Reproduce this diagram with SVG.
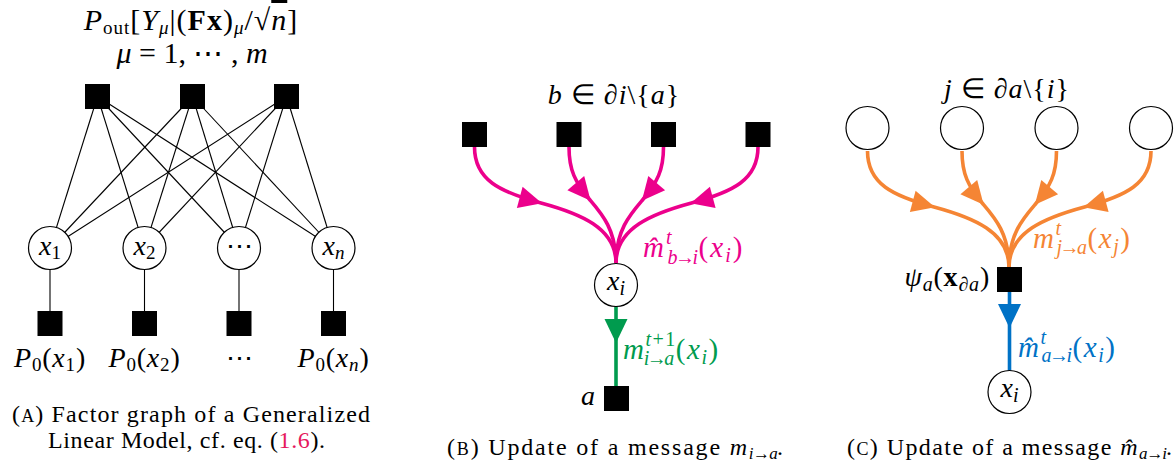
<svg xmlns="http://www.w3.org/2000/svg" width="1176" height="461" viewBox="0 0 1176 461">
<style>
text{font-family:"Liberation Serif","Times New Roman",serif;fill:#000}
.i{font-style:italic}
.b{font-weight:bold}
.ar{letter-spacing:-2.5px}
.e{stroke:#000;stroke-width:1.1;fill:none}
.v{fill:#fff;stroke:#000;stroke-width:1.2}
.f{fill:#000}
.pk{stroke:#EC008C;stroke-width:3.6;fill:none;marker-mid:url(#aP)}
.or{stroke:#F58534;stroke-width:3.6;fill:none;marker-mid:url(#aO)}
.gr{stroke:#009B4E;stroke-width:3.6;fill:none;marker-mid:url(#aG)}
.bl{stroke:#0072C6;stroke-width:3.6;fill:none;marker-mid:url(#aB)}
</style>
<defs>
<marker id="aP" viewBox="-24 -12 26 24" markerWidth="26" markerHeight="24" refX="0" refY="0" orient="auto" markerUnits="userSpaceOnUse"><path d="M1,0 L-22,-11 L-22,11 z" fill="#EC008C"/></marker>
<marker id="aO" viewBox="-24 -12 26 24" markerWidth="26" markerHeight="24" refX="0" refY="0" orient="auto" markerUnits="userSpaceOnUse"><path d="M1,0 L-22,-11 L-22,11 z" fill="#F58534"/></marker>
<marker id="aG" viewBox="-24 -12 26 24" markerWidth="26" markerHeight="24" refX="0" refY="0" orient="auto" markerUnits="userSpaceOnUse"><path d="M1,0 L-23,-11.5 L-23,11.5 z" fill="#009B4E"/></marker>
<marker id="aB" viewBox="-24 -12 26 24" markerWidth="26" markerHeight="24" refX="0" refY="0" orient="auto" markerUnits="userSpaceOnUse"><path d="M1,0 L-23,-11.5 L-23,11.5 z" fill="#0072C6"/></marker>
</defs>

<!-- Panel A -->
<g id="connectors-a">
<line class="e" x1="97.5" y1="96.5" x2="50" y2="248"/>
<line class="e" x1="97.5" y1="96.5" x2="144.5" y2="248"/>
<line class="e" x1="97.5" y1="96.5" x2="239" y2="248"/>
<line class="e" x1="97.5" y1="96.5" x2="333.5" y2="248"/>
<line class="e" x1="192.5" y1="96.5" x2="50" y2="248"/>
<line class="e" x1="192.5" y1="96.5" x2="144.5" y2="248"/>
<line class="e" x1="192.5" y1="96.5" x2="239" y2="248"/>
<line class="e" x1="192.5" y1="96.5" x2="333.5" y2="248"/>
<line class="e" x1="286.5" y1="96.5" x2="50" y2="248"/>
<line class="e" x1="286.5" y1="96.5" x2="144.5" y2="248"/>
<line class="e" x1="286.5" y1="96.5" x2="239" y2="248"/>
<line class="e" x1="286.5" y1="96.5" x2="333.5" y2="248"/>
<line class="e" x1="50" y1="248" x2="50" y2="323"/>
<line class="e" x1="144.5" y1="248" x2="144.5" y2="323"/>
<line class="e" x1="239" y1="248" x2="239" y2="323"/>
<line class="e" x1="333.5" y1="248" x2="333.5" y2="323"/>
</g>
<g id="pout-label">
<text x="191" y="30" font-size="30" text-anchor="middle" letter-spacing="1"><tspan class="i">P</tspan><tspan font-size="19" dy="4">out</tspan><tspan dy="-4">[</tspan><tspan class="i">Y</tspan><tspan class="i" font-size="19" dy="4">μ</tspan><tspan dy="-4">|(</tspan><tspan class="b">Fx</tspan><tspan>)</tspan><tspan class="i" font-size="19" dy="4">μ</tspan><tspan dy="-4">/√</tspan><tspan class="i" text-decoration="overline">n</tspan><tspan>]</tspan></text>
<text x="192" y="63" font-size="30" text-anchor="middle"><tspan class="i">μ</tspan> = 1, ⋯ , <tspan class="i">m</tspan></text>
</g>
<g id="fA1"><rect class="f" x="85" y="84" width="25" height="25"/></g>
<g id="fA2"><rect class="f" x="180" y="84" width="25" height="25"/></g>
<g id="fA3"><rect class="f" x="274" y="84" width="25" height="25"/></g>
<g id="vA1"><circle class="v" cx="50" cy="248" r="21.5"/><text x="50" y="255" font-size="28" text-anchor="middle"><tspan class="i">x</tspan><tspan font-size="19" dy="4">1</tspan></text></g>
<g id="vA2"><circle class="v" cx="144.5" cy="248" r="21.5"/><text x="144.5" y="255" font-size="28" text-anchor="middle"><tspan class="i">x</tspan><tspan font-size="19" dy="4">2</tspan></text></g>
<g id="vA3"><circle class="v" cx="239" cy="248" r="21.5"/><text x="239" y="255" font-size="27" text-anchor="middle">⋯</text></g>
<g id="vA4"><circle class="v" cx="333.5" cy="248" r="21.5"/><text x="333.5" y="255" font-size="28" text-anchor="middle"><tspan class="i">x</tspan><tspan class="i" font-size="19" dy="4">n</tspan></text></g>
<g id="pA1"><rect class="f" x="37.5" y="311" width="25" height="25"/><text x="50" y="367" font-size="28" text-anchor="middle" letter-spacing="0.8"><tspan class="i">P</tspan><tspan font-size="19" dy="4">0</tspan><tspan dy="-4">(</tspan><tspan class="i">x</tspan><tspan font-size="19" dy="4">1</tspan><tspan dy="-4">)</tspan></text></g>
<g id="pA2"><rect class="f" x="132" y="311" width="25" height="25"/><text x="144.5" y="367" font-size="28" text-anchor="middle" letter-spacing="0.8"><tspan class="i">P</tspan><tspan font-size="19" dy="4">0</tspan><tspan dy="-4">(</tspan><tspan class="i">x</tspan><tspan font-size="19" dy="4">2</tspan><tspan dy="-4">)</tspan></text></g>
<g id="pA3"><rect class="f" x="226.5" y="311" width="25" height="25"/><text x="239" y="367" font-size="27" text-anchor="middle">⋯</text></g>
<g id="pA4"><rect class="f" x="321" y="311" width="25" height="25"/><text x="333.5" y="367" font-size="28" text-anchor="middle" letter-spacing="0.8"><tspan class="i">P</tspan><tspan font-size="19" dy="4">0</tspan><tspan dy="-4">(</tspan><tspan class="i">x</tspan><tspan class="i" font-size="19" dy="4">n</tspan><tspan dy="-4">)</tspan></text></g>
<g id="capA">
<text x="12" y="422" font-size="24" textLength="358" lengthAdjust="spacing">(<tspan font-size="18">A</tspan>) Factor graph of a Generalized</text>
<text x="48" y="448" font-size="24" textLength="277" lengthAdjust="spacing">Linear Model, cf. eq. (<tspan fill="#E6195E">1.6</tspan>).</text>
</g>

<!-- Panel B -->
<g id="connectors-b">
<path class="pk" d="M474.5,147 C474.5,180 500,192 541,203 C580,213.5 616,228 616,263"/>
<path class="pk" d="M569,147 C569,170 575,182 590,200 C602,214 616,230 616,263"/>
<path class="pk" d="M663.5,147 C663.5,170 657.5,182 642.5,200 C630.5,214 616,230 616,263"/>
<path class="pk" d="M758,147 C758,180 732.5,192 691.5,203 C652.5,213.5 616,228 616,263"/>
<path class="gr" d="M616,306 L616,342 L616,386"/>
</g>
<g id="bLabel"><text x="614" y="104" font-size="28" text-anchor="middle" letter-spacing="1"><tspan class="i">b</tspan> ∈ <tspan class="i">∂i</tspan>\{<tspan class="i">a</tspan>}</text></g>
<g id="fB1"><rect class="f" x="462" y="122" width="25" height="25"/></g>
<g id="fB2"><rect class="f" x="556.5" y="122" width="25" height="25"/></g>
<g id="fB3"><rect class="f" x="651" y="122" width="25" height="25"/></g>
<g id="fB4"><rect class="f" x="745.5" y="122" width="25" height="25"/></g>
<g id="xiB"><circle class="v" cx="616" cy="285" r="21.5"/><text x="616" y="290" font-size="28" text-anchor="middle"><tspan class="i">x</tspan><tspan class="i" font-size="20" dy="5">i</tspan></text></g>
<g id="aB"><rect class="f" x="604" y="386" width="25" height="25"/><text x="588" y="405" font-size="28" text-anchor="middle" class="i">a</text></g>
<g id="msgB1"><text x="643" y="257" font-size="29" letter-spacing="2" style="fill:#EC008C"><tspan class="i">m̂</tspan><tspan class="i" font-size="20" dy="-13">t</tspan><tspan class="i ar" font-size="20" dx="-6" dy="20">b→i</tspan><tspan dx="3" dy="-7">(</tspan><tspan class="i">x</tspan><tspan class="i" font-size="20" dy="5">i</tspan><tspan dy="-5">)</tspan></text></g>
<g id="msgB2"><text x="623" y="359" font-size="29" letter-spacing="1.5" style="fill:#009B4E"><tspan class="i">m</tspan><tspan font-size="20" dy="-13"><tspan class="i">t</tspan>+1</tspan><tspan class="i ar" font-size="20" dx="-33" dy="19">i→a</tspan><tspan dx="4" dy="-6">(</tspan><tspan class="i">x</tspan><tspan class="i" font-size="20" dy="5">i</tspan><tspan dy="-5">)</tspan></text></g>
<g id="capB"><text x="447" y="455" font-size="24" textLength="336" lengthAdjust="spacing">(<tspan font-size="18">B</tspan>) Update of a message <tspan class="i">m</tspan><tspan class="i ar" font-size="17" dy="4">i→a</tspan><tspan dy="-4">.</tspan></text></g>

<!-- Panel C -->
<g id="connectors-c" transform="translate(393,4)">
<path class="or" d="M474.5,147 C474.5,180 500,192 541,203 C580,213.5 616,228 616,263"/>
<path class="or" d="M569,147 C569,170 575,182 590,200 C602,214 616,230 616,263"/>
<path class="or" d="M663.5,147 C663.5,170 657.5,182 642.5,200 C630.5,214 616,230 616,263"/>
<path class="or" d="M758,147 C758,180 732.5,192 691.5,203 C652.5,213.5 616,228 616,263"/>
</g>
<g id="connectors-c2"><path class="bl" d="M1009.5,292 L1009.5,327 L1009.5,371"/></g>
<g id="jLabel"><text x="1007" y="98" font-size="28" text-anchor="middle" letter-spacing="1"><tspan class="i">j</tspan> ∈ <tspan class="i">∂a</tspan>\{<tspan class="i">i</tspan>}</text></g>
<g id="vC1"><circle class="v" cx="867.5" cy="128" r="21.5"/></g>
<g id="vC2"><circle class="v" cx="962" cy="128" r="21.5"/></g>
<g id="vC3"><circle class="v" cx="1056.5" cy="128" r="21.5"/></g>
<g id="vC4"><circle class="v" cx="1151" cy="128" r="21.5"/></g>
<g id="psiC"><rect class="f" x="997" y="267" width="25" height="25"/><text x="990" y="286" font-size="28" text-anchor="end" letter-spacing="0.8"><tspan class="i">ψ</tspan><tspan class="i" font-size="20" dy="5">a</tspan><tspan dy="-5">(</tspan><tspan class="b">x</tspan><tspan class="i" font-size="20" dy="5">∂a</tspan><tspan dy="-5">)</tspan></text></g>
<g id="xiC"><circle class="v" cx="1009.5" cy="392" r="21.5"/><text x="1009.5" y="397" font-size="28" text-anchor="middle"><tspan class="i">x</tspan><tspan class="i" font-size="20" dy="5">i</tspan></text></g>
<g id="msgC1"><text x="1033" y="248" font-size="29" letter-spacing="1.5" style="fill:#F58534"><tspan class="i">m</tspan><tspan class="i" font-size="20" dy="-13">t</tspan><tspan class="i ar" font-size="20" dx="-6" dy="19">j→a</tspan><tspan dx="3" dy="-6">(</tspan><tspan class="i">x</tspan><tspan class="i" font-size="20" dy="5">j</tspan><tspan dy="-5">)</tspan></text></g>
<g id="msgC2"><text x="1018" y="357" font-size="29" letter-spacing="1.5" style="fill:#0072C6"><tspan class="i">m̂</tspan><tspan class="i" font-size="20" dy="-13">t</tspan><tspan class="i ar" font-size="20" dx="-6" dy="18">a→i</tspan><tspan dx="3" dy="-5">(</tspan><tspan class="i">x</tspan><tspan class="i" font-size="20" dy="5">i</tspan><tspan dy="-5">)</tspan></text></g>
<g id="capC"><text x="847" y="455" font-size="24" textLength="325" lengthAdjust="spacing">(<tspan font-size="18">C</tspan>) Update of a message <tspan class="i">m̂</tspan><tspan class="i ar" font-size="17" dy="4">a→i</tspan><tspan dy="-4">.</tspan></text></g>
</svg>
